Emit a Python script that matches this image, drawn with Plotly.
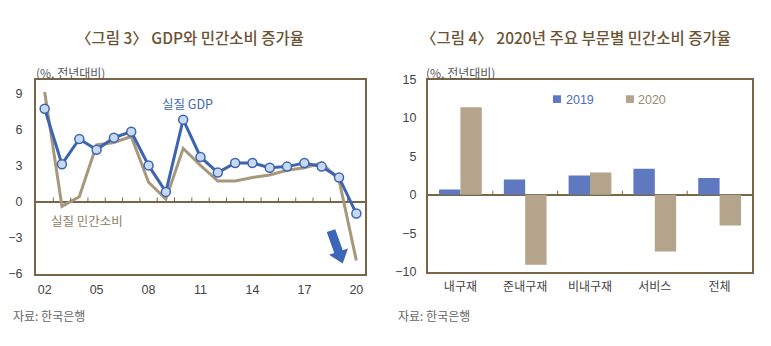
import plotly.graph_objects as go
import numpy as np

# ---------------- data ----------------
years = list(range(2002, 2021))
gdp = [7.7, 3.1, 5.2, 4.3, 5.3, 5.8, 3.0, 0.8, 6.8, 3.7, 2.4, 3.2, 3.2, 2.8, 2.9, 3.2, 2.9, 2.0, -1.0]
consumption = [9.1, -0.4, 0.4, 4.7, 4.9, 5.4, 1.6, 0.2, 4.4, 3.0, 1.7, 1.7, 2.0, 2.2, 2.6, 2.8, 3.2, 1.8, -4.9]
x_tick_years = [2002, 2005, 2008, 2011, 2014, 2017, 2020]
x_tick_text = ["02", "05", "08", "11", "14", "17", "20"]
left_y_ticks = [-6, -3, 0, 3, 6, 9]

categories = ["내구재", "준내구재", "비내구재", "서비스", "전체"]
v2019 = [0.7, 2.0, 2.5, 3.4, 2.2]
v2020 = [11.4, -9.1, 2.9, -7.4, -4.0]
right_y_ticks = [-10, -5, 0, 5, 10, 15]

# ---------------- style ----------------
W, H = 771, 346
FONT = "Liberation Sans, Arial, Noto Sans CJK KR"
KFONT = "Noto Sans CJK KR, Liberation Sans"
AX = "#7b6547"
TITLE_C = "#6b5334"
BLUE_LINE = "#3d64b0"
MARK_FILL = "#c7d9f1"
TAN_LINE = "#a7987d"
BAR_BLUE = "#5f79c1"
BAR_TAN = "#b3a48b"
TXT = "#444444"


def px(x):
    return x / W


def py(y):
    return 1 - y / H


fig = go.Figure()

fig.add_trace(go.Scatter(x=years, y=consumption, mode="lines",
                         line=dict(color=TAN_LINE, width=3),
                         xaxis="x", yaxis="y", showlegend=False))
fig.add_trace(go.Scatter(x=years, y=gdp, mode="lines+markers",
                         line=dict(color=BLUE_LINE, width=3),
                         marker=dict(size=9, color=MARK_FILL, line=dict(color=BLUE_LINE, width=1.5)),
                         xaxis="x", yaxis="y", showlegend=False))

fig.add_trace(go.Bar(x=categories, y=v2019, marker=dict(color=BAR_BLUE, line=dict(width=0)),
                     xaxis="x2", yaxis="y2", showlegend=False, name="2019"))
fig.add_trace(go.Bar(x=categories, y=v2020, marker=dict(color=BAR_TAN, line=dict(width=0)),
                     xaxis="x2", yaxis="y2", showlegend=False, name="2020"))

axis_common = dict(showline=True, mirror=True, linecolor=AX, linewidth=2,
                   showgrid=False, ticks="", tickfont=dict(family=FONT, size=12.5, color=TXT))

fig.update_layout(
    width=W, height=H, margin=dict(l=0, r=0, t=0, b=0),
    paper_bgcolor="white", plot_bgcolor="white",
    barmode="group", bargap=0.34, bargroupgap=0,
    xaxis=dict(domain=[px(36), px(365)], range=[2001.5, 2020.5], tickmode="array",
               tickvals=x_tick_years, ticktext=x_tick_text, zeroline=False,
               ticklabelstandoff=3, anchor="y", **axis_common),
    yaxis=dict(domain=[py(278), py(76)], range=[-6, 10.1], tickmode="array",
               tickvals=left_y_ticks, zeroline=True, zerolinecolor=AX, zerolinewidth=1.5,
               ticklabelstandoff=9, anchor="x", **axis_common),
    xaxis2=dict(domain=[px(428), px(752)], range=[-0.5, 4.5], zeroline=False,
                ticklabelstandoff=3, anchor="y2",
                **{**axis_common, "tickfont": dict(family=KFONT, size=12, color=TXT)}),
    yaxis2=dict(domain=[py(275.7), py(75.7)], range=[-10, 15], tickmode="array",
                tickvals=right_y_ticks, zeroline=True, zerolinecolor=AX, zerolinewidth=1.5,
                ticklabelstandoff=7, anchor="x2", **axis_common),
)

shapes = []
# small ticks on zero line (left chart, between years)
for yr in years[:-1]:
    shapes.append(dict(type="line", xref="x", yref="y", x0=yr + 0.5, x1=yr + 0.5,
                       ysizemode="pixel", yanchor=0, y0=0, y1=4,
                       line=dict(color=AX, width=1)))
# small ticks on zero line (right chart, between categories)
for i in range(len(categories) - 1):
    shapes.append(dict(type="line", xref="x2", yref="y2", x0=i + 0.5, x1=i + 0.5,
                       ysizemode="pixel", yanchor=0, y0=0, y1=4,
                       line=dict(color=AX, width=1)))

# arrow (decoration)
c0 = np.array([331.0, 233.0])
tip = np.array([342.7, 267.3])
u = (tip - c0) / np.linalg.norm(tip - c0)
n = np.array([u[1], -u[0]])
hb = tip - 13 * u
pts = [c0 + 4.5 * n, hb + 4.5 * n, hb + 10 * n, tip, hb - 10 * n, hb - 4.5 * n, c0 - 4.5 * n]
path = "M " + " L ".join(f"{px(p[0]):.5f},{py(p[1]):.5f}" for p in pts) + " Z"
shapes.append(dict(type="path", xref="paper", yref="paper", path=path,
                   fillcolor="#3d65b8", line=dict(width=0)))

# legend squares
shapes.append(dict(type="rect", xref="paper", yref="paper", x0=px(553), x1=px(561),
                   y0=py(100), y1=py(92), fillcolor=BAR_BLUE, line=dict(width=0)))
shapes.append(dict(type="rect", xref="paper", yref="paper", x0=px(626), x1=px(634),
                   y0=py(100), y1=py(92), fillcolor=BAR_TAN, line=dict(width=0)))
fig.update_layout(shapes=shapes)

ann = []


def text(x, y, s, size, color, xanchor="center", family=KFONT, weight="normal"):
    ann.append(dict(x=px(x), y=py(y), xref="paper", yref="paper", text=s, showarrow=False,
                    xanchor=xanchor, yanchor="middle",
                    font=dict(family=family, size=size, color=color, weight=weight)))


text(189.5, 31, "〈그림 3〉 GDP와 민간소비 증가율", 15.5, TITLE_C, weight=500)
text(576, 31, "〈그림 4〉 2020년 주요 부문별 민간소비 증가율", 15.5, TITLE_C, weight=500)
text(34, 68, "(%, 전년대비)", 12, "#555555", "left")
text(424, 68, "(%, 전년대비)", 12, "#555555", "left")
text(11, 321, "자료: 한국은행", 12, "#666666", "left")
text(396, 321, "자료: 한국은행", 12, "#666666", "left")
text(160, 101, "실질 GDP", 12.5, "#3f68b5", "left")
text(49, 223, "실질 민간소비", 12.5, "#8e7d63", "left")
text(564, 96.5, "2019", 12.5, "#4b6cb9", "left", FONT)
text(636, 96.5, "2020", 12.5, "#9a8a70", "left", FONT)
fig.update_layout(annotations=ann)

fig.write_html("out.html")
